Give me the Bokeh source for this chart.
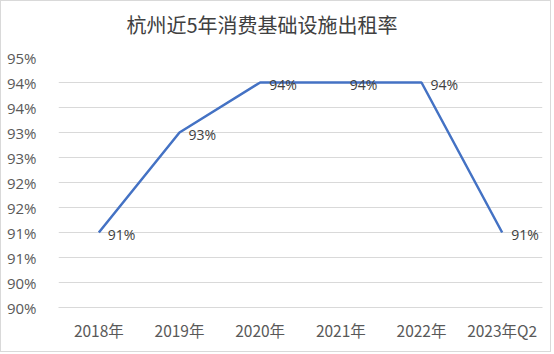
from bokeh.plotting import figure
from bokeh.models import FixedTicker, ColumnDataSource
from bokeh.core.properties import value
from bokeh.embed import file_html
from bokeh.resources import INLINE

categories = ["2018年", "2019年", "2020年", "2021年", "2022年", "2023年Q2"]
rates = [91.5, 93.5, 94.5, 94.5, 94.5, 91.5]
rate_labels = ["91%", "93%", "94%", "94%", "94%", "91%"]
y_ticks = [90.0, 90.5, 91.0, 91.5, 92.0, 92.5, 93.0, 93.5, 94.0, 94.5, 95.0]
y_tick_labels = ["90%", "90%", "91%", "91%", "92%", "92%", "93%", "93%", "94%", "94%", "95%"]
title_text = "杭州近5年消费基础设施出租率"

src = ColumnDataSource(dict(cat=categories, rate=rates, lbl=rate_labels))

p = figure(x_range=categories, y_range=(90, 95), width=551, height=352,
           output_backend="svg", toolbar_location=None,
           min_border_left=57, min_border_right=10, min_border_top=56, min_border_bottom=46)
p.title.text = title_text
p.title.align = "left"
p.title.offset = 68
p.title.text_font = "Noto Sans CJK SC"
p.title.text_font_size = "20px"
p.title.text_font_style = "normal"
p.title.text_color = "#404040"
p.title.standoff = 0
p.title.padding = dict(left=0, right=0, top=0, bottom=19)

p.outline_line_color = None
p.background_fill_color = "white"
p.border_fill_color = "white"
p.styles = {"border": "1px solid #d9d9d9"}

p.line("cat", "rate", source=src, line_color="#4472C4", line_width=2.5)
p.text("cat", "rate", text="lbl", source=src, x_offset=9, y_offset=2,
       text_font=value("Open Sans"), text_font_size="14px", text_color="#404040",
       text_baseline="middle", text_align="left")

p.yaxis.ticker = FixedTicker(ticks=y_ticks)
p.yaxis.major_label_overrides = {t: l for t, l in zip(y_ticks, y_tick_labels)}
for ax in (p.xaxis, p.yaxis):
    ax.axis_line_color = None
    ax.major_tick_line_color = None
    ax.minor_tick_line_color = None
    ax.major_label_text_color = "#595959"
p.yaxis.major_label_text_font = "Open Sans"
p.yaxis.major_label_text_font_size = "15px"
p.xaxis.major_label_text_font = "Noto Sans CJK SC"
p.xaxis.major_label_text_font_size = "15.5px"
p.yaxis.major_label_standoff = 16
p.xaxis.major_label_standoff = 5
p.xaxis.axis_line_color = "#d9d9d9"

p.xgrid.grid_line_color = None
p.ygrid.grid_line_color = "#d9d9d9"
p.ygrid.grid_line_width = 1

open("out.html", "w").write(file_html(p, INLINE))
